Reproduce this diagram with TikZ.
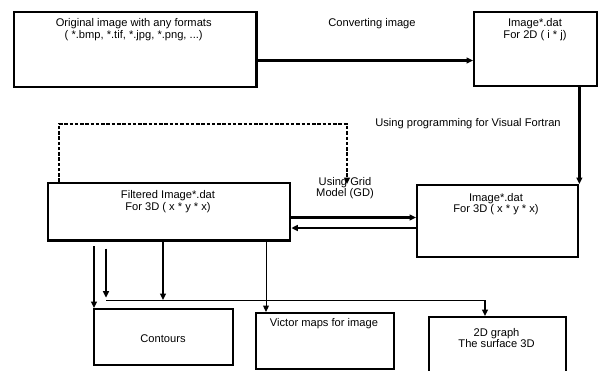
\documentclass[tikz,border=0pt]{standalone}
\usepackage{fontspec}
\setmainfont{Liberation Sans}
\usetikzlibrary{arrows.meta, positioning, calc}

\begin{document}
\begin{tikzpicture}[
  x=0.03cm, y=-0.03cm,
  font=\fontsize{9.5}{10}\selectfont,
  >={Triangle[length=5.5pt,width=5pt]},
  box/.style     ={draw, line width=2pt, anchor=north west, inner sep=0pt},
  txt/.style     ={align=center, inner sep=0pt},
  arr/.style     ={->, line width=2pt},
  thinarr/.style ={->, line width=0.8pt},
  thinline/.style={line width=0.8pt},
  dashline/.style={->, line width=2.5pt, dash pattern=on 3pt off 1.5pt},
]
\useasboundingbox (0,0) rectangle (598,370);

% --- Row 1: source image and 2D data ---
\node[box, minimum width=7.28cm, minimum height=2.25cm] (orig)  at (12.5,11) {};
\node[box, minimum width=3.70cm, minimum height=2.22cm] (img2d) at (473,11) {};
\node[txt] (origtxt)  at (133.7,29.5) {Original image with any formats\\( *.bmp, *.tif, *.jpg, *.png, ...)};
\node[txt] (img2dtxt) at (535,29.5)   {Image*.dat\\For 2D ( i * j)};
\node[txt] (convlbl)  at (372,24)     {Converting image};
\coordinate (rowC) at (0,60.5);
\draw[arr] (orig.east |- rowC) -- (img2d.west |- rowC);

% --- Row 2: 3D data and filtered data ---
\node[box, minimum width=4.83cm, minimum height=2.16cm] (img3d) at (416,184) {};
\node[box, minimum width=7.26cm, minimum height=1.72cm] (filt)  at (47,182) {};
\node[txt] (img3dtxt) at (496,204)   {Image*.dat\\For 3D ( x * y * x)};
\node[txt] (filttxt)  at (168,201.5) {Filtered Image*.dat\\For 3D ( x * y * x)};
\node[txt] (fortlbl)  at (468,124)   {Using programming for Visual Fortran};
\node[txt] (gridlbl)  at (345,188)   {Using Grid\\Model (GD)};
\draw[arr] (img2d.south -| img3d.north east) -- (img3d.north east);

\coordinate (rowA) at (0,217.5);
\coordinate (rowB) at (0,228);
\draw[arr] (filt.east |- rowA) -- (img3d.west |- rowA);
\draw[arr] (img3d.west |- rowB) -- (filt.east |- rowB);

% dashed feedback to the grid model
\coordinate (dashL) at (59,124);
\coordinate (dashR) at (347,124);
\coordinate (dashE) at (347,184);
\draw[dashline] (filt.north -| dashL) -- (dashL) -- (dashR) -- (dashE);

% --- Row 3: outputs ---
\node[box, minimum width=4.17cm, minimum height=1.68cm] (cont)  at (93,308) {};
\node[box, minimum width=4.14cm, minimum height=1.68cm] (vict)  at (255,312) {};
\node[box, minimum width=4.11cm, minimum height=2.00cm] (graph) at (428,316) {};
\node[txt] (conttxt)  at (163,339)   {Contours};
\node[txt] (victtxt)  at (324,324)   {Victor maps for image};
\node[txt] (graphtxt) at (496.5,338) {2D graph\\The surface 3D};

\coordinate (d1)   at (94,0);
\coordinate (d3)   at (163,0);
\coordinate (d4)   at (266,0);
\coordinate (busL) at (106,300);
\coordinate (busR) at (485,300);
\draw[thinline] (busL) -- (busR);
\draw[arr] ([yshift=-4pt]filt.south -| d1) -- (cont.north -| d1);
\draw[arr] ([yshift=-6pt]filt.south -| busL) -- ([yshift=2pt]busL);
\draw[arr] (filt.south -| d3) -- (busL -| d3);
\draw[thinarr] (filt.south -| d4) -- (vict.north -| d4);
\draw[thinarr, line width=1.2pt] (busR) -- (busR |- graph.north);

\end{tikzpicture}
\end{document}
